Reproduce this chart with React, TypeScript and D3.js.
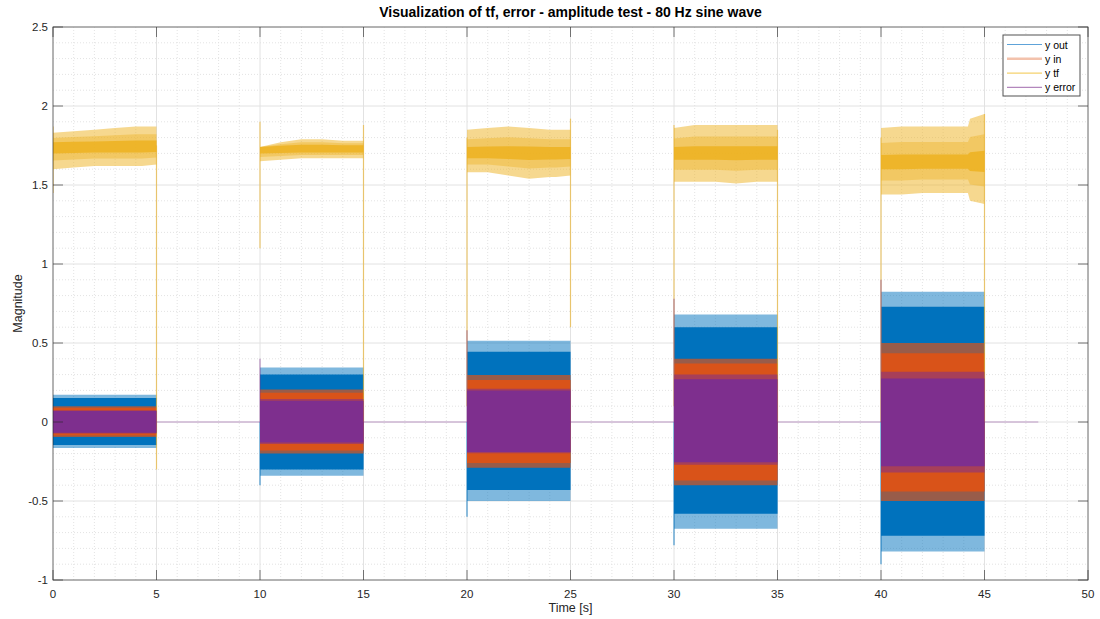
import React from 'react';
import * as d3 from 'd3';

// segment boundaries (s)
const segStart = [0, 10, 20, 30, 40];
const segEnd = [5, 15, 25, 35, 45];

// y out envelope: light outer edge and solid inner edge
const outTop = [0.172, 0.345, 0.515, 0.68, 0.825];
const outTopSolid = [0.152, 0.3, 0.445, 0.6, 0.73];
const outBot = [-0.165, -0.34, -0.5, -0.675, -0.82];
const outBotSolid = [-0.146, -0.3, -0.43, -0.58, -0.72];

// y in envelope
const inTop = [0.1, 0.205, 0.297, 0.4, 0.5];
const inTopSolid = [0.09, 0.185, 0.266, 0.37, 0.435];
const inBot = [-0.095, -0.2, -0.29, -0.4, -0.5];
const inBotSolid = [-0.085, -0.18, -0.26, -0.37, -0.44];

// y error envelope
const errTop = [0.075, 0.145, 0.21, 0.3, 0.318];
const errTopSolid = [0.07, 0.135, 0.2, 0.27, 0.276];
const errBot = [-0.072, -0.14, -0.198, -0.27, -0.32];
const errBotSolid = [-0.068, -0.13, -0.19, -0.255, -0.28];

// y tf envelope, sampled within each segment (offset s from start)
const tfOffsets = [0, 1, 2, 3, 4, 4.2, 4.3, 5];
const tfTop = [
  [1.83, 1.84, 1.85, 1.86, 1.87, 1.87, 1.87, 1.87],
  [1.74, 1.77, 1.79, 1.79, 1.78, 1.78, 1.78, 1.78],
  [1.85, 1.86, 1.87, 1.86, 1.85, 1.85, 1.85, 1.85],
  [1.86, 1.88, 1.88, 1.88, 1.88, 1.88, 1.88, 1.88],
  [1.86, 1.87, 1.87, 1.87, 1.87, 1.87, 1.92, 1.95],
];
const tfBot = [
  [1.6, 1.61, 1.62, 1.62, 1.62, 1.62, 1.62, 1.63],
  [1.65, 1.66, 1.67, 1.67, 1.67, 1.67, 1.67, 1.67],
  [1.58, 1.58, 1.56, 1.54, 1.55, 1.55, 1.55, 1.56],
  [1.52, 1.52, 1.52, 1.51, 1.52, 1.52, 1.52, 1.52],
  [1.44, 1.44, 1.45, 1.45, 1.45, 1.45, 1.4, 1.38],
];
const tfCoreTop = [1.77, 1.74, 1.74, 1.74, 1.69];
const tfCoreBot = [1.7, 1.7, 1.67, 1.66, 1.6];

// transients at switching instants: [t, low, high]
const tfSpikes: [number, number, number][] = [
  [0, 1.45, 1.87], [5, -0.3, 1.75], [10, 1.1, 1.9], [15, 0, 1.88],
  [20, 0.1, 1.8], [25, 0.6, 1.92], [30, 0.1, 1.88], [35, 0, 1.85],
  [40, 0, 1.8], [45, 0, 1.95],
];
const outSpikes: [number, number, number][] = [
  [10, -0.4, 0], [20, -0.6, 0], [30, -0.78, 0], [40, -0.9, 0],
];
const errSpikes: [number, number, number][] = [
  [10, 0, 0.4], [20, 0, 0.58], [30, 0, 0.78], [40, 0, 0.9],
];
const errTail = [5, 47.6];

const xTicks = [0, 5, 10, 15, 20, 25, 30, 35, 40, 45, 50];
const yTicks = [-1, -0.5, 0, 0.5, 1, 1.5, 2, 2.5];
const legendLabels = ['y out', 'y in', 'y tf', 'y error'];

const colors = ['#0072BD', '#D95319', '#EDB120', '#7E2F8E'];
const legendColors = ['#5ea3d9', '#f3c2ac', '#f5d26e', '#b387bd'];

const W = 1100, H = 619;
const margin = { top: 27, right: 12, bottom: 39, left: 53 };
const font = '"Liberation Sans", Arial, Helvetica, sans-serif';

export default function App() {
  const x = d3.scaleLinear().domain([0, 50]).range([margin.left, W - margin.right]);
  const y = d3.scaleLinear().domain([-1, 2.5]).range([H - margin.bottom, margin.top]);
  const area = d3.area<[number, number, number]>()
    .x(d => x(d[0])).y0(d => y(d[1])).y1(d => y(d[2]));
  const line = d3.line<[number, number]>().x(d => x(d[0])).y(d => y(d[1]));

  const band = (i: number, lo: number, hi: number) =>
    area([[segStart[i], lo, hi], [segEnd[i], lo, hi]]) || '';

  const minorX = d3.range(0, 50.01, 1).filter(v => v % 5 !== 0);
  const minorY = d3.range(-1, 2.501, 0.1).filter(v => Math.abs(v * 2 - Math.round(v * 2)) > 1e-6);

  const [x0, x1] = x.range();
  const [yb, yt] = y.range();

  const envelope = (top: number[], topS: number[], bot: number[], botS: number[], c: string, op: number) =>
    segStart.map((_, i) => (
      <g key={i}>
        <path d={band(i, bot[i], top[i])} fill={c} opacity={op} />
        <path d={band(i, botS[i], topS[i])} fill={c} />
      </g>
    ));

  const spikes = (list: [number, number, number][], c: string, op: number) =>
    list.map((s, i) => (
      <path key={i} d={line([[s[0], s[1]], [s[0], s[2]]]) || ''} stroke={c} strokeWidth={1.2} opacity={op} fill="none" />
    ));

  // tf band between outer envelope and core, blended by factor f (0 = outer, 1 = core)
  const tfBand = (i: number, f: number) =>
    area(tfOffsets.map((o, k) => {
      const cb = tfCoreBot[i] + (tfBot[i][k] - tfBot[i][0]) * 0.3;
      const ct = tfCoreTop[i] + (tfTop[i][k] - tfTop[i][0]) * 0.3;
      return [segStart[i] + o, tfBot[i][k] + (cb - tfBot[i][k]) * f, tfTop[i][k] + (ct - tfTop[i][k]) * f] as [number, number, number];
    })) || '';

  return (
    <div style={{ position: 'fixed', left: 0, top: 0 }}>
      <svg width={W} height={H} style={{ display: 'block', background: '#fff', fontFamily: font }}>
        <defs>
          <clipPath id="plot">
            <rect x={x0} y={yt} width={x1 - x0} height={yb - yt} />
          </clipPath>
        </defs>
        {/* grid */}
        <g>
          {minorX.map(v => (
            <line key={'mx' + v} x1={x(v)} x2={x(v)} y1={yt} y2={yb} stroke="#e3e3e3" strokeWidth={1} strokeDasharray="1,2" />
          ))}
          {minorY.map(v => (
            <line key={'my' + v} x1={x0} x2={x1} y1={y(v)} y2={y(v)} stroke="#e3e3e3" strokeWidth={1} strokeDasharray="1,2" />
          ))}
          {xTicks.map(v => (
            <line key={'gx' + v} x1={x(v)} x2={x(v)} y1={yt} y2={yb} stroke="#e2e2e2" strokeWidth={1} />
          ))}
          {yTicks.map(v => (
            <line key={'gy' + v} x1={x0} x2={x1} y1={y(v)} y2={y(v)} stroke="#e2e2e2" strokeWidth={1} />
          ))}
        </g>

        <g clipPath="url(#plot)">
          {/* y out */}
          {envelope(outTop, outTopSolid, outBot, outBotSolid, colors[0], 0.5)}
          {spikes(outSpikes, colors[0], 0.7)}
          {/* y in */}
          {envelope(inTop, inTopSolid, inBot, inBotSolid, colors[1], 0.7)}
          {/* y tf */}
          {segStart.map((_, i) => (
            <g key={'tf' + i}>
              <path d={tfBand(i, 0)} fill={colors[2]} opacity={0.5} />
              <path d={tfBand(i, 0.55)} fill={colors[2]} opacity={0.4} />
              <path d={tfBand(i, 1)} fill={colors[2]} opacity={0.85} />
            </g>
          ))}
          {spikes(tfSpikes, colors[2], 0.6)}
          {/* y error */}
          <path d={line([[errTail[0], 0], [errTail[1], 0]]) || ''} stroke={colors[3]} strokeWidth={1.2} opacity={0.45} fill="none" />
          {envelope(errTop, errTopSolid, errBot, errBotSolid, colors[3], 0.55)}
          {spikes(errSpikes, colors[3], 0.5)}
        </g>

        {/* axes box */}
        <rect x={x0} y={yt} width={x1 - x0} height={yb - yt} fill="none" stroke="#262626" strokeOpacity={0.6} strokeWidth={1} />
        {xTicks.map(v => (
          <g key={'tx' + v}>
            <line x1={x(v)} x2={x(v)} y1={yb} y2={yb - 10} stroke="#262626" strokeOpacity={0.6} />
            <line x1={x(v)} x2={x(v)} y1={yt} y2={yt + 10} stroke="#262626" strokeOpacity={0.6} />
            <text x={x(v)} y={yb + 18} textAnchor="middle" fontSize={11.5} fill="#262626">{v}</text>
          </g>
        ))}
        {yTicks.map(v => (
          <g key={'ty' + v}>
            <line x1={x0} x2={x0 + 10} y1={y(v)} y2={y(v)} stroke="#262626" strokeOpacity={0.6} />
            <line x1={x1} x2={x1 - 10} y1={y(v)} y2={y(v)} stroke="#262626" strokeOpacity={0.6} />
            <text x={x0 - 5} y={y(v) + 4} textAnchor="end" fontSize={11.5} fill="#262626">{v}</text>
          </g>
        ))}

        {/* labels */}
        <text x={(x0 + x1) / 2} y={17} textAnchor="middle" fontSize={14} fontWeight="bold" fill="#000">
          Visualization of tf, error - amplitude test - 80 Hz sine wave
        </text>
        <text x={(x0 + x1) / 2} y={612} textAnchor="middle" fontSize={12.5} fill="#262626">Time [s]</text>
        <text transform={`translate(22,${(yt + yb) / 2}) rotate(-90)`} textAnchor="middle" fontSize={12.5} fill="#262626">Magnitude</text>

        {/* legend */}
        <g transform="translate(1003,35)">
          <rect x={0} y={0} width={77} height={61} fill="#fff" stroke="#262626" strokeOpacity={0.8} />
          {legendLabels.map((l, i) => (
            <g key={l} transform={`translate(0,${9.5 + i * 14.3})`}>
              <line x1={4} x2={39} y1={0} y2={0} stroke={legendColors[i]} strokeWidth={i === 1 ? 2.5 : 1.2} />
              <text x={42} y={4} fontSize={10.5} fill="#000">{l}</text>
            </g>
          ))}
        </g>
      </svg>
    </div>
  );
}
